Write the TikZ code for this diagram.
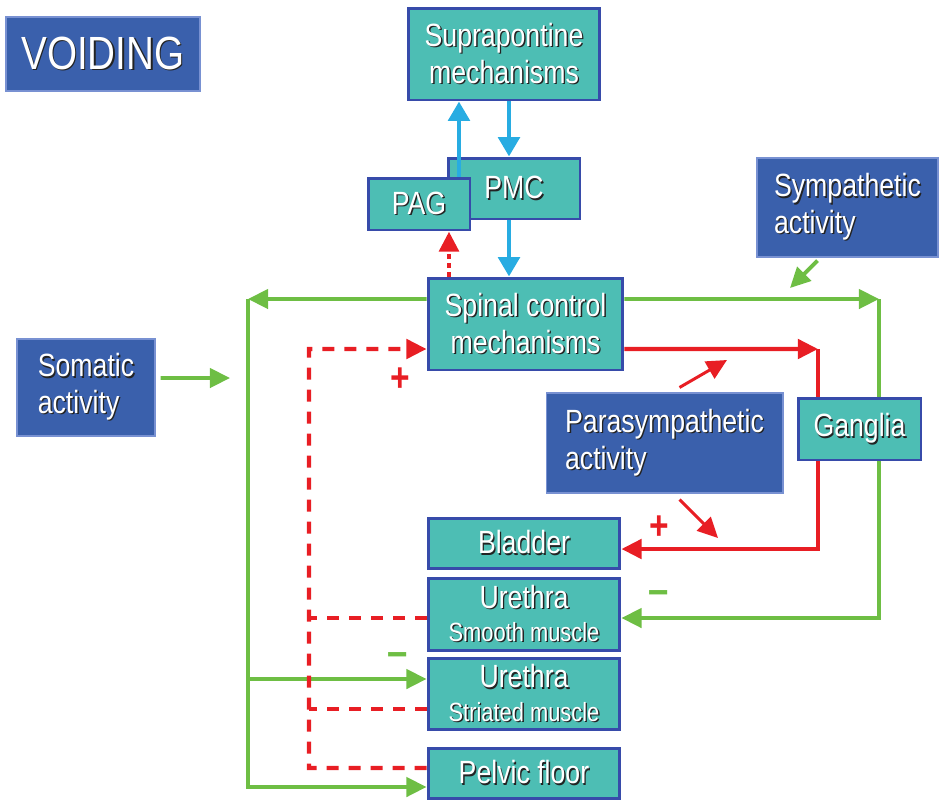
\documentclass[tikz,border=0pt]{standalone}
\usepackage{fontspec}
\setmainfont{Liberation Sans}[FakeStretch=0.83]
\usetikzlibrary{arrows.meta, positioning, calc}
\definecolor{TealFill}{RGB}{77,190,180}
\definecolor{BoxEdge}{RGB}{55,75,170}
\definecolor{NavyFill}{RGB}{58,96,172}
\definecolor{NavyEdge}{RGB}{120,145,210}
\definecolor{LeafGreen}{RGB}{110,190,68}
\definecolor{SignalRed}{RGB}{232,30,36}
\definecolor{SkyBlue}{RGB}{40,172,226}
\definecolor{ShadowGray}{RGB}{35,35,35}
\newcommand{\shd}[1]{\leavevmode\rlap{\kern0.8pt\raisebox{-0.8pt}{\color{ShadowGray}#1}}#1}
\tikzset{
  tealbox/.style={draw=BoxEdge, fill=TealFill, line width=1.7pt, text=white, align=center, inner sep=0pt, font=\fontsize{18.3}{21}\selectfont},
  navybox/.style={draw=NavyEdge, fill=NavyFill, line width=0.6pt, text=white, align=left, inner sep=0pt, font=\fontsize{18.3}{21}\selectfont},
  greenline/.style={draw=LeafGreen, line width=2.2pt},
  redline/.style={draw=SignalRed, line width=2.4pt},
  redthin/.style={draw=SignalRed, line width=1.7pt},
  reddash/.style={draw=SignalRed, line width=2.4pt, dash pattern=on 0.24cm off 0.2cm},
  reddot/.style={draw=SignalRed, line width=2.8pt, dash pattern=on 2.8pt off 2.3pt},
  cyanline/.style={draw=SkyBlue, line width=2.8pt, -{Triangle[length=11pt,width=12pt]}},
  plussign/.style={text=SignalRed, font=\fontsize{23}{23}\selectfont\bfseries, inner sep=0pt},
  minussign/.style={text=LeafGreen, font=\fontsize{25}{25}\selectfont\bfseries, inner sep=0pt}
}

\begin{document}
\begin{tikzpicture}[x=0.02cm, y=-0.02cm, >={Triangle[length=11.5pt,width=11pt]}]
    \useasboundingbox (0,0) rectangle (940,806);
    % boxes
    \node[navybox, align=center, minimum width=3.88cm, minimum height=1.48cm, font=\fontsize{26.5}{30}\selectfont] (voiding) at (103,54) {\shd{VOIDING}};
    \node[tealbox, minimum width=3.84cm, minimum height=1.84cm] (supra) at (504,54) {\shd{Suprapontine}\\\shd{mechanisms}};
    \node[tealbox, minimum width=2.64cm, minimum height=1.22cm] (pmc) at (514,188.5) {\shd{PMC}};
    \node[tealbox, minimum width=2.04cm, minimum height=1.04cm] (pag) at (419,204) {\shd{PAG}};
    \node[navybox, minimum width=3.62cm, minimum height=1.98cm] (symp) at (847.5,207.5) {\shd{Sympathetic}\\\shd{activity}};
    \node[tealbox, minimum width=3.9cm, minimum height=1.84cm] (spinal) at (525.5,324) {\shd{Spinal control}\\\shd{mechanisms}};
    \node[navybox, minimum width=2.76cm, minimum height=1.94cm] (somatic) at (86,387.5) {\shd{Somatic}\\\shd{activity}};
    \node[navybox, minimum width=4.74cm, minimum height=2.0cm] (para) at (664.5,443) {\shd{Parasympathetic}\\\shd{activity}};
    \node[tealbox, minimum width=2.46cm, minimum height=1.24cm] (ganglia) at (859.5,429) {\shd{Ganglia}};
    \node[tealbox, minimum width=3.84cm, minimum height=1.0cm] (bladder) at (524,543) {\shd{Bladder}};
    \node[tealbox, minimum width=3.84cm, minimum height=1.44cm] (ureS) at (524,614) {\shd{Urethra}\\[-2pt]{\fontsize{15}{16}\selectfont\shd{Smooth muscle}}};
    \node[tealbox, minimum width=3.84cm, minimum height=1.42cm] (ureT) at (524,693.5) {\shd{Urethra}\\[-2pt]{\fontsize{15}{16}\selectfont\shd{Striated muscle}}};
    \node[tealbox, minimum width=3.84cm, minimum height=1.0cm] (pelvic) at (524,773) {\shd{Pelvic floor}};

    % corners and free ends
    \coordinate (gLeft) at (248,299);
    \coordinate (gRight) at (879,299);
    \coordinate (rRight) at (818,349);
    \coordinate (dLeft) at (309,349);
    \coordinate (somEnd) at (230,378);
    \coordinate (sympEnd) at (790,288);
    \coordinate (paraUp) at (727,360);
    \coordinate (paraDown) at (718,538);
    \coordinate (gT) at ([yshift=.29cm]ureT.west);
    \coordinate (gS) at ([yshift=-.08cm]ureS.east);
    \coordinate (rB) at ([yshift=-.12cm]bladder.east);
    \coordinate (dS) at ([yshift=-.08cm]ureS.west);
    \coordinate (dT) at ([yshift=-.31cm]ureT.west);
    \coordinate (dP) at ([yshift=.1cm]pelvic.west);
    \coordinate (pagTop) at ([xshift=.8cm]pag.north);
    \coordinate (pagBot) at ([xshift=.6cm]pag.south);
    \coordinate (pmcTop) at ([xshift=-.1cm]pmc.north);
    \coordinate (pmcBot) at ([xshift=-.1cm]pmc.south);

    % somatic side
    \draw[greenline, ->] ([yshift=.5cm]spinal.west) -- (gLeft);
    \draw[greenline, ->] (gLeft) |- ([yshift=-.28cm]pelvic.west);
    \draw[greenline, ->] (gLeft |- gT) -- (gT);
    \draw[greenline, ->] ([xshift=.1cm,yshift=.19cm]somatic.east) -- (somEnd);

    % sympathetic side
    \draw[greenline, ->] ([yshift=.5cm]spinal.east) -- (gRight);
    \draw[greenline] (gRight) -- (gRight |- ganglia.north);
    \draw[greenline, ->] (gRight |- ganglia.south) |- (gS);
    \draw[greenline, ->] ([xshift=-.6cm,yshift=-.06cm]symp.south) -- (sympEnd);

    % parasympathetic side
    \draw[redline, ->] ([yshift=-.5cm]spinal.east) -- (rRight);
    \draw[redline] (rRight) -- (rRight |- ganglia.north);
    \draw[redline, ->] (rRight |- ganglia.south) |- (rB);
    \draw[redthin, ->] ([xshift=.3cm,yshift=.1cm]para.north) -- (paraUp);
    \draw[redthin, ->] ([xshift=.3cm,yshift=-.12cm]para.south) -- (paraDown);

    % afferent feedback
    \draw[reddash, ->] (dP) -| (dLeft) -- ([yshift=-.5cm]spinal.west);
    \draw[reddash] (dS) -- (dLeft |- dS);
    \draw[reddash] (dT) -- (dLeft |- dT);
    \draw[reddot, ->] (pagBot |- spinal.north) -- (pagBot);

    % brainstem
    \draw[cyanline] (pagTop) -- (pagTop |- supra.south);
    \draw[cyanline] (pmcTop |- supra.south) -- (pmcTop);
    \draw[cyanline] (pmcBot) -- (pmcBot |- spinal.north);

    % signs
    \node[plussign] (plusA) at (400,380) {+};
    \node[plussign] (plusB) at (659,528) {+};
    \node[minussign] (minusA) at (659,598) {\textendash};
    \node[minussign] (minusB) at (398,660) {\textendash};
\end{tikzpicture}
\end{document}
